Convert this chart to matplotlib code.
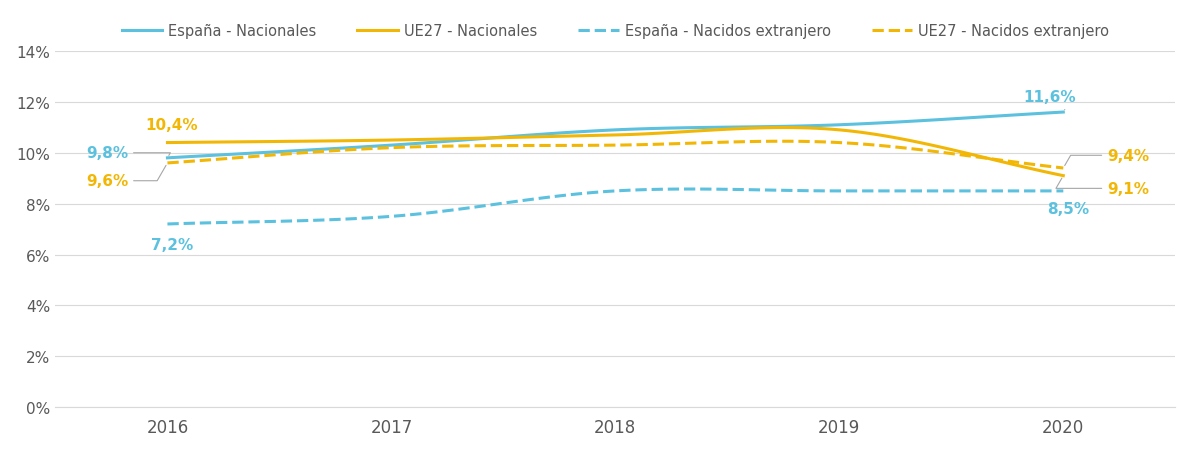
import numpy as np
from matplotlib import pyplot as plt

years = ['2016', '2017', '2018', '2019', '2020']
esp_nac = [9.8, 10.3, 10.9, 11.1, 11.6]
ue_nac = [10.4, 10.5, 10.7, 10.9, 9.1]
esp_ext = [7.2, 7.5, 8.5, 8.5, 8.5]
ue_ext = [9.6, 10.2, 10.3, 10.4, 9.4]

blue = '#5BC1DE'
gold = '#F2B705'


def smooth(y, n=30):
    # Catmull-Rom curve through the points, like Excel's smoothed line
    y = np.asarray(y, float)
    p = np.concatenate([[2 * y[0] - y[1]], y, [2 * y[-1] - y[-2]]])
    xs, ys = [], []
    for i in range(len(y) - 1):
        t = np.linspace(0, 1, n, endpoint=False)
        p0, p1, p2, p3 = p[i], p[i + 1], p[i + 2], p[i + 3]
        seg = 0.5 * (2 * p1 + (-p0 + p2) * t + (2 * p0 - 5 * p1 + 4 * p2 - p3) * t ** 2
                     + (-p0 + 3 * p1 - 3 * p2 + p3) * t ** 3)
        xs.append(i + t)
        ys.append(seg)
    xs.append([len(y) - 1])
    ys.append([y[-1]])
    return np.concatenate(xs), np.concatenate(ys)


fig, ax = plt.subplots(figsize=(11.8, 4.52), dpi=100)
fig.subplots_adjust(left=0.047, right=0.996, top=0.885, bottom=0.097)

series = [(esp_nac, blue, '-', 'España - Nacionales'),
          (ue_nac, gold, '-', 'UE27 - Nacionales'),
          (esp_ext, blue, '--', 'España - Nacidos extranjero'),
          (ue_ext, gold, '--', 'UE27 - Nacidos extranjero')]
for vals, c, ls, lab in series:
    x, y = smooth(vals)
    ax.plot(x, y, color=c, ls=ls, lw=2.2, label=lab)

ax.set_xlim(-0.5, 4.5)
ax.set_ylim(0, 14)
ax.set_yticks(range(0, 15, 2))
ax.set_yticklabels([f'{v}%' for v in range(0, 15, 2)])
ax.set_xticks(range(5))
ax.set_xticklabels(years)
ax.grid(axis='y', color='#D9D9D9', lw=0.8)
ax.set_axisbelow(True)
for s in ['top', 'right', 'left']:
    ax.spines[s].set_visible(False)
ax.spines['bottom'].set_color('#D9D9D9')
ax.tick_params(length=0, labelsize=11, colors='#595959')
ax.tick_params(axis='x', pad=8, labelsize=12)

def lab(txt, xy, xytext, c, leader=False):
    ax.annotate(txt, xy=xy, xytext=xytext, color=c, fontsize=11, fontweight='bold',
                ha='center', va='center',
                arrowprops=dict(arrowstyle='-', color='#A6A6A6', lw=0.8,
                                connectionstyle='angle,angleA=0,angleB=60') if leader else None)

fmt = lambda v: f'{v:.1f}%'.replace('.', ',')
lab(fmt(esp_nac[0]), (0, esp_nac[0]), (-0.27, 10.0), blue, True)
lab(fmt(ue_nac[0]), (0, ue_nac[0]), (0.02, 11.1), gold)
lab(fmt(ue_ext[0]), (0, ue_ext[0]), (-0.27, 8.9), gold, True)
lab(fmt(esp_ext[0]), (0, esp_ext[0]), (0.02, 6.4), blue)
lab(fmt(esp_nac[4]), (4, esp_nac[4]), (3.94, 12.2), blue, True)
lab(fmt(ue_ext[4]), (4, ue_ext[4]), (4.29, 9.9), gold, True)
lab(fmt(ue_nac[4]), (4, ue_nac[4]), (4.29, 8.6), gold, True)
lab(fmt(esp_ext[4]), (4, esp_ext[4]), (4.02, 7.8), blue)

ax.legend(loc='lower center', bbox_to_anchor=(0.5, 1.0), ncol=4, frameon=False,
          fontsize=10.5, handlelength=2.8, handletextpad=0.4, columnspacing=2.8,
          labelcolor='#595959')
fig.savefig('out.png')
